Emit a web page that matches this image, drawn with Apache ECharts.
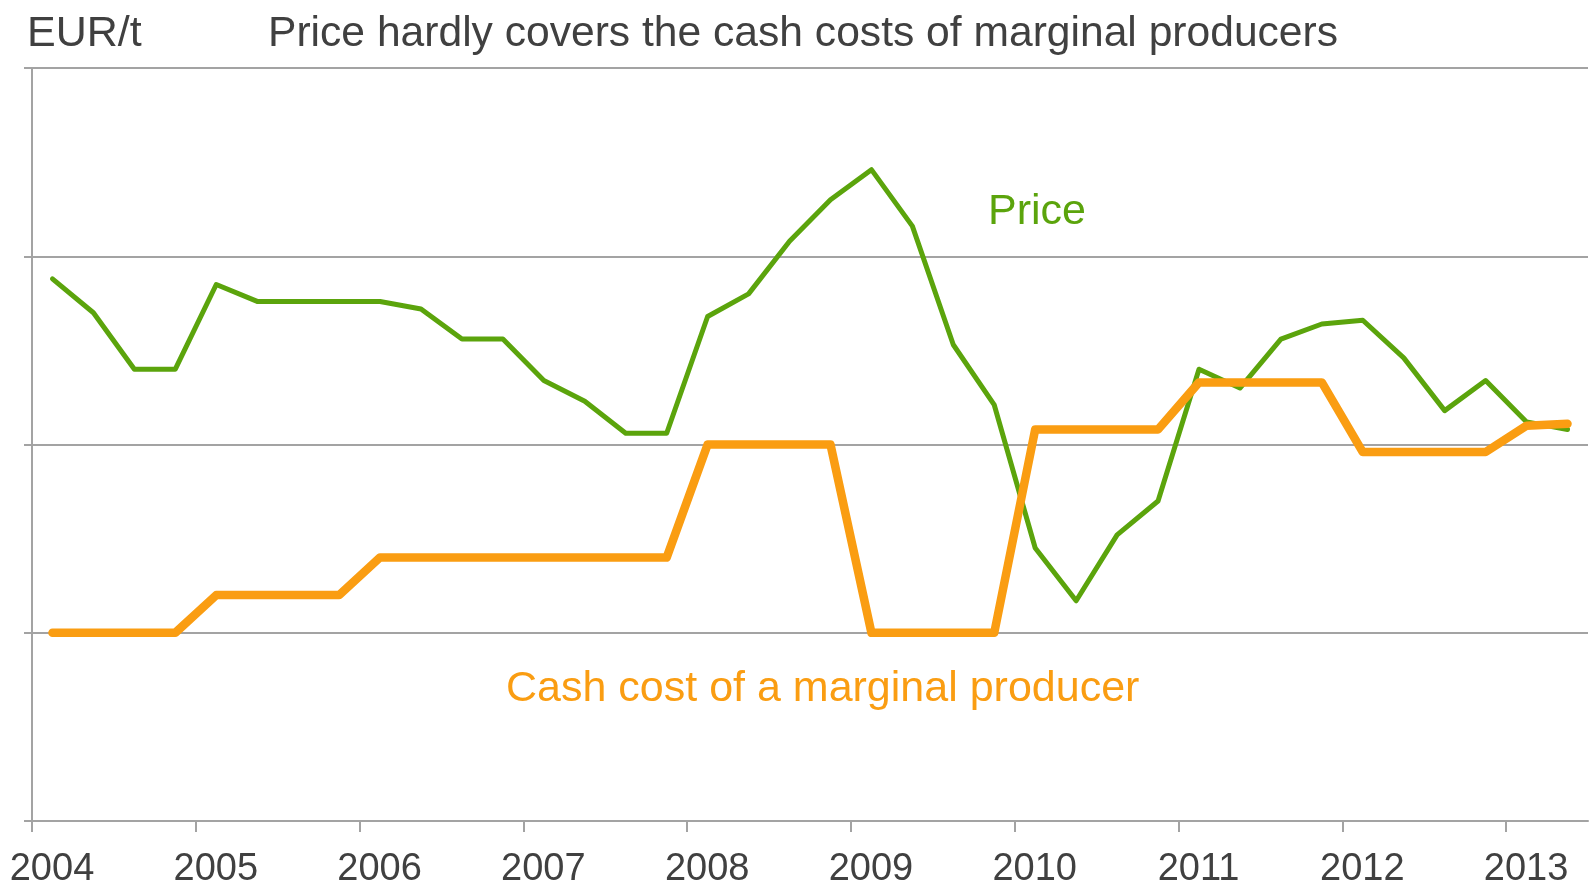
<!DOCTYPE html>
<html>
<head>
<meta charset="utf-8">
<title>Price vs cash cost</title>
<script src="https://cdn.jsdelivr.net/npm/echarts@6/dist/echarts.min.js"></script>
<style>
  html, body { margin: 0; padding: 0; background: #fff; }
  #main { width: 1595px; height: 893px; }
</style>
</head>
<body>
<div id="main"></div>
<script>
// quarterly periods, 2004 Q1 .. 2013 Q2
var quarters = [
    '2004Q1', '2004Q2', '2004Q3', '2004Q4',
    '2005Q1', '2005Q2', '2005Q3', '2005Q4',
    '2006Q1', '2006Q2', '2006Q3', '2006Q4',
    '2007Q1', '2007Q2', '2007Q3', '2007Q4',
    '2008Q1', '2008Q2', '2008Q3', '2008Q4',
    '2009Q1', '2009Q2', '2009Q3', '2009Q4',
    '2010Q1', '2010Q2', '2010Q3', '2010Q4',
    '2011Q1', '2011Q2', '2011Q3', '2011Q4',
    '2012Q1', '2012Q2', '2012Q3', '2012Q4',
    '2013Q1', '2013Q2'
];

// EUR/t
var price = [
    288, 270, 240, 240, 285, 276, 276, 276, 276, 272,
    256, 256, 234, 223, 206, 206, 268, 280, 308, 330,
    346, 316, 253, 221, 145, 117, 152, 170, 240, 230,
    256, 264, 266, 246, 218, 234, 212, 208
];
var cashCost = [
    100, 100, 100, 100, 120, 120, 120, 120, 140, 140,
    140, 140, 140, 140, 140, 140, 200, 200, 200, 200,
    100, 100, 100, 100, 208, 208, 208, 208, 233, 233,
    233, 233, 196, 196, 196, 196, 210, 211
];

var yearTicks = [2004, 2005, 2006, 2007, 2008, 2009, 2010, 2011, 2012, 2013];

var GREEN = '#5BA40C', ORANGE = '#FA9D12', GREY = '#A3A3A3', TEXT = '#404040';
var FONT = '"Liberation Sans", Arial, sans-serif';

// mid point of each quarter on the year axis
function quarterToX(q) {
    var year = parseInt(q.slice(0, 4), 10), n = parseInt(q.slice(5), 10);
    return year + (n - 0.5) / 4;
}
function toPairs(values) {
    var out = [];
    for (var i = 0; i < quarters.length; i++) {
        out.push([quarterToX(quarters[i]), values[i]]);
    }
    return out;
}

var chart = echarts.init(document.getElementById('main'));

chart.setOption({
    animation: false,
    backgroundColor: '#fff',
    grid: { left: 32, right: 7, top: 68, bottom: 72, containLabel: false, outerBoundsMode: 'none' },
    xAxis: {
        type: 'value',
        min: 2004,
        max: 2013.5,
        interval: 1,
        splitLine: { show: false },
        axisLine: { lineStyle: { color: GREY, width: 2 } },
        axisTick: { show: true, length: 11, customValues: yearTicks, lineStyle: { color: GREY, width: 2 } },
        axisLabel: {
            customValues: yearTicks,
            margin: 30,
            padding: [0, 0, 0, 40],   // labels sit a bit right of their tick
            color: TEXT,
            fontSize: 38,
            fontFamily: FONT,
            formatter: function (v) { return String(v); }
        }
    },
    yAxis: {
        type: 'value',
        min: 0,
        max: 400,
        interval: 100,
        axisLabel: { show: false },
        axisLine: { show: true, lineStyle: { color: GREY, width: 2 } },
        axisTick: { show: true, length: 8, lineStyle: { color: GREY, width: 2 } },
        splitLine: { show: true, lineStyle: { color: GREY, width: 2 } }
    },
    graphic: [
        { type: 'text', style: { text: 'EUR/t', x: 27, y: 34, textVerticalAlign: 'middle', fill: TEXT, font: '43px ' + FONT } },
        { type: 'text', style: { text: 'Price hardly covers the cash costs of marginal producers', x: 268, y: 34, textVerticalAlign: 'middle', fill: TEXT, font: '42.6px ' + FONT } },
        { type: 'text', style: { text: 'Price', x: 988, y: 212, textVerticalAlign: 'middle', fill: GREEN, font: '43px ' + FONT } },
        { type: 'text', style: { text: 'Cash cost of a marginal producer', x: 506, y: 689, textVerticalAlign: 'middle', fill: ORANGE, font: '43px ' + FONT } }
    ],
    series: [
        {
            name: 'Price',
            type: 'line',
            data: toPairs(price),
            symbol: 'none',
            lineStyle: { color: GREEN, width: 5, cap: 'round', join: 'round' }
        },
        {
            name: 'Cash cost of a marginal producer',
            type: 'line',
            data: toPairs(cashCost),
            symbol: 'none',
            lineStyle: { color: ORANGE, width: 8.5, cap: 'round', join: 'round' }
        }
    ]
});
</script>
</body>
</html>
